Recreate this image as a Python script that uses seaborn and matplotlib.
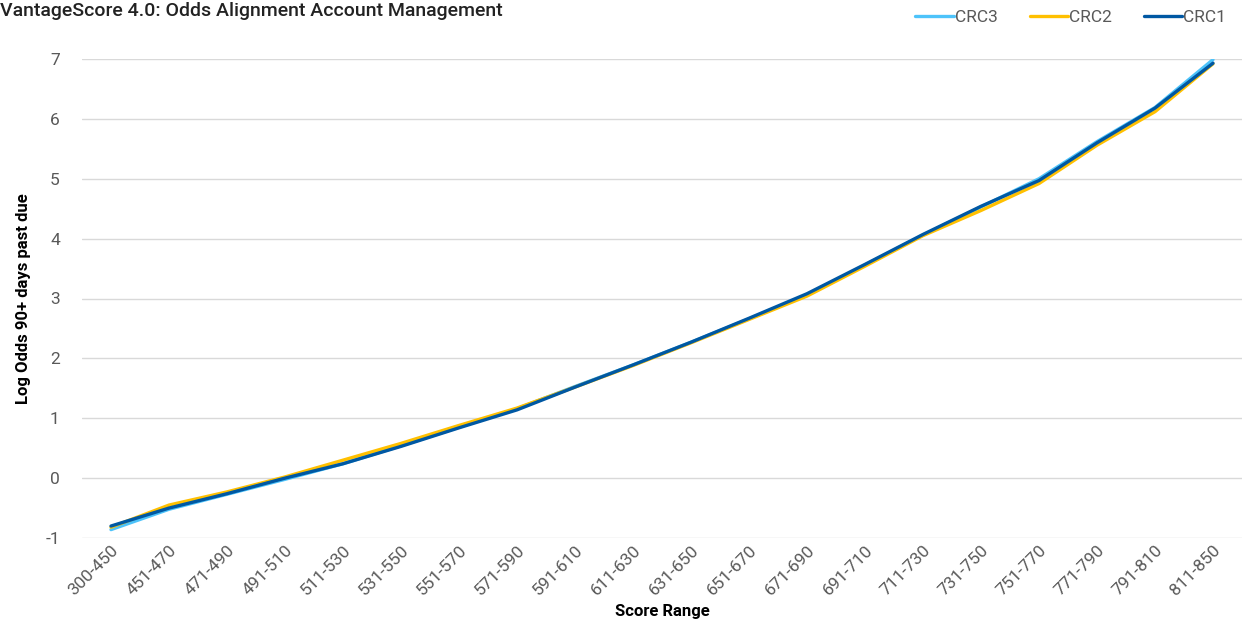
import pandas as pd
import numpy as np
import seaborn as sns
import matplotlib.pyplot as plt

""" data """
score_range = ['300-450', '451-470', '471-490', '491-510', '511-530', '531-550',
               '551-570', '571-590', '591-610', '611-630', '631-650', '651-670',
               '671-690', '691-710', '711-730', '731-750', '751-770', '771-790',
               '791-810', '811-850']
crc3 = [-0.86, -0.52, -0.27, -0.02, 0.24, 0.54, 0.85, 1.16, 1.53, 1.89, 2.27,
        2.66, 3.06, 3.56, 4.06, 4.53, 5.00, 5.62, 6.19, 6.99]
crc2 = [-0.82, -0.45, -0.23, 0.02, 0.30, 0.58, 0.88, 1.17, 1.52, 1.88, 2.26,
        2.65, 3.04, 3.54, 4.05, 4.47, 4.92, 5.56, 6.12, 6.92]
crc1 = [-0.80, -0.50, -0.26, 0.00, 0.24, 0.53, 0.84, 1.14, 1.52, 1.89, 2.27,
        2.67, 3.08, 3.57, 4.07, 4.54, 4.97, 5.60, 6.18, 6.93]

""" config """
sns.set_theme(style='white')
plt.rcParams['font.family'] = ['Roboto', 'DejaVu Sans']
plt.rcParams['axes.unicode_minus'] = False

df = pd.DataFrame({'Score Range': score_range * 3,
                   'value': crc3 + crc2 + crc1,
                   'series': ['CRC3'] * 20 + ['CRC2'] * 20 + ['CRC1'] * 20})
palette = {'CRC3': '#4DC3FA', 'CRC2': '#FFC000', 'CRC1': '#0058A3'}

fig = plt.figure(figsize=(12.49, 6.38), dpi=100)
ax = fig.add_axes([82/1249, 1-538/638, 1160/1249, 479/638])

sns.lineplot(data=df, x='Score Range', y='value', hue='series',
             hue_order=['CRC3', 'CRC2', 'CRC1'], palette=palette,
             linewidth=2.4, sort=False, ax=ax)

ax.set_ylim(-1, 7)
ax.set_xlim(-0.5, len(score_range) - 0.5)
ax.set_yticks(range(-1, 8))
ax.yaxis.grid(True, color='#d9d9d9', linewidth=1)
ax.set_axisbelow(True)
for s in ax.spines.values():
    s.set_visible(False)
ax.tick_params(axis='both', length=0, labelsize=12.5, labelcolor='#595959')
ax.tick_params(axis='y', pad=16)
plt.setp(ax.get_xticklabels(), rotation=45, ha='right', rotation_mode='anchor')
ax.set_xlabel('Score Range', fontsize=12, fontweight='bold', color='black', labelpad=4)
ax.set_ylabel('Log Odds 90+ days past due', fontsize=12, fontweight='bold',
              color='black', labelpad=10)

fig.text(0.0, 0.997, 'VantageScore 4.0: Odds Alignment Account Management',
         fontsize=14, fontweight='medium', color='#222222', ha='left', va='top')

ax.legend(loc='upper right', bbox_to_anchor=(1.0, 1.135), ncol=3, frameon=False,
          fontsize=12.5, handlelength=2.2, handletextpad=0.1, columnspacing=1.8,
          labelcolor='#595959')

fig.savefig('out.png', dpi=100)
